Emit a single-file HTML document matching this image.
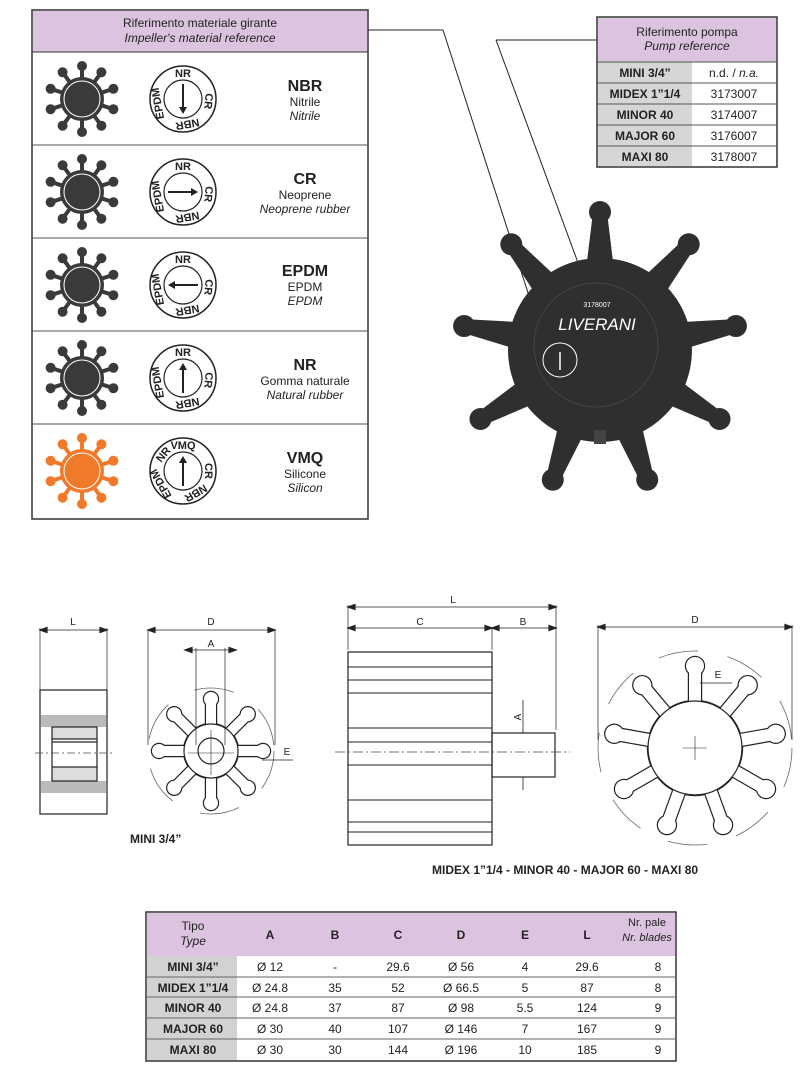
<!DOCTYPE html>
<html><head><meta charset="utf-8"><style>
html,body{margin:0;padding:0;background:#fff;}
svg{display:block;font-family:"Liberation Sans",sans-serif;}
</style></head><body>
<svg id="s" width="800" height="1076" viewBox="0 0 800 1076" xmlns="http://www.w3.org/2000/svg">
<rect width="800" height="1076" fill="#fff"/>
<!-- leader lines -->
<line x1="368" y1="30" x2="443" y2="30" stroke="#222" stroke-width="1"/>
<line x1="443" y1="30" x2="553" y2="370" stroke="#222" stroke-width="1"/>
<line x1="597" y1="40" x2="496" y2="40" stroke="#222" stroke-width="1"/>
<line x1="496" y1="40" x2="591" y2="298" stroke="#222" stroke-width="1"/>
<g id="big"></g>
<!-- left panel -->
<rect x="32" y="10" width="336" height="509" fill="#fff" stroke="#333" stroke-width="1.5"/>
<rect x="33" y="11" width="334" height="41" fill="#dcc3df"/>
<line x1="32" y1="52" x2="368" y2="52" stroke="#333"/>
<text x="200" y="27" font-size="12" text-anchor="middle" fill="#222">Riferimento materiale girante</text>
<text x="200" y="42" font-size="12" text-anchor="middle" font-style="italic" fill="#222">Impeller's material reference</text>
<g stroke="#555" stroke-width="1"><line x1="32" y1="145" x2="368" y2="145"/><line x1="32" y1="238" x2="368" y2="238"/><line x1="32" y1="331" x2="368" y2="331"/><line x1="32" y1="424" x2="368" y2="424"/></g>
<g id="icons"></g>
<g font-size="12" fill="#222" text-anchor="middle">
<text x="305" y="91" font-size="16" font-weight="bold">NBR</text><text x="305" y="106">Nitrile</text><text x="305" y="120" font-style="italic">Nitrile</text>
<text x="305" y="184" font-size="16" font-weight="bold">CR</text><text x="305" y="199">Neoprene</text><text x="305" y="213" font-style="italic">Neoprene rubber</text>
<text x="305" y="276" font-size="16" font-weight="bold">EPDM</text><text x="305" y="291">EPDM</text><text x="305" y="305" font-style="italic">EPDM</text>
<text x="305" y="370" font-size="16" font-weight="bold">NR</text><text x="305" y="385">Gomma naturale</text><text x="305" y="399" font-style="italic">Natural rubber</text>
<text x="305" y="463" font-size="16" font-weight="bold">VMQ</text><text x="305" y="478">Silicone</text><text x="305" y="492" font-style="italic">Silicon</text>
</g>
<!-- pump ref table -->
<rect x="597" y="17" width="180" height="150" fill="#fff" stroke="#333" stroke-width="1.5"/>
<rect x="598" y="18" width="178" height="44" fill="#dcc3df"/>
<rect x="598" y="62" width="94" height="104" fill="#d6d6d6"/>
<g stroke="#555"><line x1="597" y1="62" x2="777" y2="62"/><line x1="597" y1="83" x2="777" y2="83"/><line x1="597" y1="104" x2="777" y2="104"/><line x1="597" y1="125" x2="777" y2="125"/><line x1="597" y1="146" x2="777" y2="146"/></g>
<text x="687" y="36" font-size="12" text-anchor="middle" fill="#222">Riferimento pompa</text>
<text x="687" y="50" font-size="12" text-anchor="middle" font-style="italic" fill="#222">Pump reference</text>
<g font-size="12" font-weight="bold" text-anchor="middle" fill="#222">
<text x="645" y="77">MINI 3/4”</text><text x="645" y="98">MIDEX 1”1/4</text><text x="645" y="119">MINOR 40</text><text x="645" y="140">MAJOR 60</text><text x="645" y="161">MAXI 80</text></g>
<g font-size="12" text-anchor="middle" fill="#222">
<text x="734" y="77">n.d. / <tspan font-style="italic">n.a.</tspan></text><text x="734" y="98">3173007</text><text x="734" y="119">3174007</text><text x="734" y="140">3176007</text><text x="734" y="161">3178007</text></g>
<!-- lower drawings -->
<g id="draw" fill="none" stroke="#222" stroke-width="1.2"></g>
<g font-size="10" fill="#222" text-anchor="middle">
<text x="73" y="625">L</text><text x="211" y="625">D</text><text x="211" y="647">A</text><text x="287" y="755">E</text>
<text x="453" y="603">L</text><text x="420" y="625">C</text><text x="523" y="625">B</text><text x="695" y="623">D</text><text x="718" y="678">E</text>
<text x="521" y="717" transform="rotate(-90 521 717)">A</text>
</g>
<text x="130" y="843" font-size="12" font-weight="bold" fill="#222">MINI 3/4”</text>
<text x="432" y="874" font-size="12" font-weight="bold" fill="#222">MIDEX 1”1/4 - MINOR 40 - MAJOR 60 - MAXI 80</text>
<!-- bottom table -->
<rect x="146" y="912" width="530" height="149" fill="#fff" stroke="#333" stroke-width="1.5"/>
<rect x="147" y="913" width="528" height="43" fill="#dcc3df"/>
<rect x="147" y="956" width="90" height="104" fill="#d2d2d2"/>
<g stroke="#666"><line x1="146" y1="977" x2="676" y2="977"/><line x1="146" y1="997" x2="676" y2="997"/><line x1="146" y1="1018" x2="676" y2="1018"/><line x1="146" y1="1039" x2="676" y2="1039"/></g>
<g font-size="12" fill="#222" text-anchor="middle">
<text x="193" y="930">Tipo</text><text x="193" y="945" font-style="italic">Type</text>
<text x="647" y="926" font-size="11">Nr. pale</text><text x="647" y="941" font-size="11" font-style="italic">Nr. blades</text>
<g font-weight="bold"><text x="270" y="939">A</text><text x="335" y="939">B</text><text x="398" y="939">C</text><text x="461" y="939">D</text><text x="525" y="939">E</text><text x="587" y="939">L</text>
<text x="193" y="971">MINI 3/4”</text><text x="193" y="992">MIDEX 1”1/4</text><text x="193" y="1012">MINOR 40</text><text x="193" y="1033">MAJOR 60</text><text x="193" y="1054">MAXI 80</text></g>
<text x="270" y="971">Ø 12</text><text x="335" y="971">-</text><text x="398" y="971">29.6</text><text x="461" y="971">Ø 56</text><text x="525" y="971">4</text><text x="587" y="971">29.6</text><text x="658" y="971">8</text>
<text x="270" y="992">Ø 24.8</text><text x="335" y="992">35</text><text x="398" y="992">52</text><text x="461" y="992">Ø 66.5</text><text x="525" y="992">5</text><text x="587" y="992">87</text><text x="658" y="992">8</text>
<text x="270" y="1012">Ø 24.8</text><text x="335" y="1012">37</text><text x="398" y="1012">87</text><text x="461" y="1012">Ø 98</text><text x="525" y="1012">5.5</text><text x="587" y="1012">124</text><text x="658" y="1012">9</text>
<text x="270" y="1033">Ø 30</text><text x="335" y="1033">40</text><text x="398" y="1033">107</text><text x="461" y="1033">Ø 146</text><text x="525" y="1033">7</text><text x="587" y="1033">167</text><text x="658" y="1033">9</text>
<text x="270" y="1054">Ø 30</text><text x="335" y="1054">30</text><text x="398" y="1054">144</text><text x="461" y="1054">Ø 196</text><text x="525" y="1054">10</text><text x="587" y="1054">185</text><text x="658" y="1054">9</text>
</g>
</svg>
<script>
var NS="http://www.w3.org/2000/svg";
function el(p,t,a,txt){var e=document.createElementNS(NS,t);for(var k in a)e.setAttribute(k,a[k]);if(txt)e.textContent=txt;p.appendChild(e);return e;}
// big impeller
var g=document.getElementById('big'),cx=600,cy=350,col='#2f2f2f';
for(var i=0;i<9;i++){var a=(-90+40*i)*Math.PI/180,x=cx+138*Math.cos(a),y=cy+138*Math.sin(a);
var px=-Math.sin(a),py=Math.cos(a),bx=cx+80*Math.cos(a),by=cy+80*Math.sin(a);
el(g,'polygon',{points:(bx+14*px)+','+(by+14*py)+' '+(x+7*px)+','+(y+7*py)+' '+(x-7*px)+','+(y-7*py)+' '+(bx-14*px)+','+(by-14*py),fill:col});
el(g,'circle',{cx:x,cy:y,r:11,fill:col});}
el(g,'circle',{cx:cx,cy:cy,r:92,fill:col});
el(g,'circle',{cx:cx-4,cy:cy-5,r:62,fill:'none',stroke:'#444','stroke-width':1});
el(g,'rect',{x:cx-6,y:cy+80,width:12,height:14,fill:'#444'});
el(g,'text',{x:cx-3,y:cy-43,'font-size':7,fill:'#fff','text-anchor':'middle'},'3178007');
el(g,'text',{x:cx-3,y:cy-20,'font-size':17,fill:'#fff','text-anchor':'middle','font-style':'italic'},'LIVERANI');
el(g,'circle',{cx:cx-40,cy:cy+10,r:17,fill:'none',stroke:'#fff','stroke-width':1});
el(g,'line',{x1:cx-40,y1:cy+20,x2:cx-40,y2:cy+2,stroke:'#fff','stroke-width':1.5});
// icons
var ic=document.getElementById('icons');
var rows=[[99,90],[192,0],[285,180],[378,270],[471,270]];
rows.forEach(function(r,j){var y0=r[0],c=j==4?'#f07a2a':'#3a3a3a',x0=82;
for(var i=0;i<10;i++){var a=(i*36-90)*Math.PI/180,x=x0+33*Math.cos(a),y=y0+33*Math.sin(a);
el(ic,'line',{x1:x0,y1:y0,x2:x,y2:y,stroke:c,'stroke-width':4});el(ic,'circle',{cx:x,cy:y,r:5,fill:c});}
el(ic,'circle',{cx:x0,cy:y0,r:22,fill:c});el(ic,'circle',{cx:x0,cy:y0,r:18,fill:'none',stroke:'#fff','stroke-width':1});
var bx=183;el(ic,'circle',{cx:bx,cy:y0,r:33,fill:'#fff',stroke:'#222','stroke-width':1.5});
el(ic,'circle',{cx:bx,cy:y0,r:19,fill:'none',stroke:'#222','stroke-width':1.2});
var d=r[1]*Math.PI/180,ex=bx+15*Math.cos(d),ey=y0+15*Math.sin(d),sx=bx-15*Math.cos(d),sy=y0-15*Math.sin(d);
el(ic,'line',{x1:sx,y1:sy,x2:ex-5*Math.cos(d),y2:ey-5*Math.sin(d),stroke:'#222','stroke-width':2});
var px=-Math.sin(d),py=Math.cos(d);
el(ic,'polygon',{points:ex+','+ey+' '+(ex-7*Math.cos(d)+4*px)+','+(ey-7*Math.sin(d)+4*py)+' '+(ex-7*Math.cos(d)-4*px)+','+(ey-7*Math.sin(d)-4*py),fill:'#222'});
var labs=j==4?[['VMQ',-90],['CR',0],['NBR',60],['EPDM',150],['NR',-140]]:[['NR',-90],['CR',5],['NBR',80],['EPDM',170]];
labs.forEach(function(l){var a=l[1]*Math.PI/180,tx=bx+26*Math.cos(a),ty=y0+26*Math.sin(a);
el(ic,'text',{x:tx,y:ty+4,'font-size':11,'font-weight':'bold','text-anchor':'middle',fill:'#222',transform:'rotate('+(l[1]+90)+' '+tx+' '+ty+')'},l[0]);});
});
// drawings
var dr=document.getElementById('draw');
function L(x1,y1,x2,y2,w,c,da){var o={x1:x1,y1:y1,x2:x2,y2:y2};if(w)o['stroke-width']=w;if(c)o.stroke=c;if(da)o['stroke-dasharray']=da;el(dr,'line',o);}
function arrowDim(x1,x2,y){L(x1,y,x2,y,0.8);el(dr,'polygon',{points:x1+','+y+' '+(x1+7)+','+(y-2.5)+' '+(x1+7)+','+(y+2.5),fill:'#222'});el(dr,'polygon',{points:x2+','+y+' '+(x2-7)+','+(y-2.5)+' '+(x2-7)+','+(y+2.5),fill:'#222'});}
function impOutline(cx,cy,n,bl,hub,tip,bw,shaft,dr2){
 var g2=el(dr,'g',{});
 for(var i=0;i<n;i++){var a=(-90+360/n*i)*Math.PI/180,x=cx+bl*Math.cos(a),y=cy+bl*Math.sin(a);
 el(g2,'line',{x1:cx,y1:cy,x2:x,y2:y,stroke:'#222','stroke-width':bw+2.4});el(g2,'circle',{cx:x,cy:y,r:tip+1.2,fill:'#222',stroke:'none'});}
 el(g2,'circle',{cx:cx,cy:cy,r:hub+1.2,fill:'#222',stroke:'none'});
 for(var i=0;i<n;i++){var a=(-90+360/n*i)*Math.PI/180,x=cx+bl*Math.cos(a),y=cy+bl*Math.sin(a);
 el(g2,'line',{x1:cx,y1:cy,x2:x,y2:y,stroke:'#fff','stroke-width':bw});el(g2,'circle',{cx:x,cy:y,r:tip,fill:'#fff',stroke:'none'});}
 el(g2,'circle',{cx:cx,cy:cy,r:hub-0.5,fill:'#fff',stroke:'none'});
 el(g2,'circle',{cx:cx,cy:cy,r:hub,fill:'none',stroke:'#222','stroke-width':1.2});
 if(shaft)el(g2,'circle',{cx:cx,cy:cy,r:shaft,fill:'none',stroke:'#222','stroke-width':1.2});
 el(g2,'circle',{cx:cx,cy:cy,r:dr2,fill:'none',stroke:'#666','stroke-width':0.8,'stroke-dasharray':'40 30'});
}
// mini side
el(dr,'rect',{x:40,y:690,width:67,height:124});
el(dr,'rect',{x:41,y:715,width:65,height:12,fill:'#bbb',stroke:'none'});
el(dr,'rect',{x:41,y:781,width:65,height:12,fill:'#bbb',stroke:'none'});
el(dr,'rect',{x:52,y:727,width:45,height:12,fill:'#ddd'});el(dr,'rect',{x:52,y:767,width:45,height:14,fill:'#ddd'});
L(52,739,52,767);L(97,739,97,767);L(52,742,97,742);
L(35,753,115,753,0.7,'#444','8 3 2 3');
L(40,628,40,690,0.7);L(107,628,107,690,0.7);arrowDim(40,107,630);
// mini front
impOutline(211,751,8,52,27,7,10,13,63);
L(148,630,148,745,0.7);L(275,630,275,745,0.7);arrowDim(148,275,630);
L(196,648,196,745,0.7);L(225,648,225,745,0.7);arrowDim(185,236,650);
L(188,753,234,753,0.6);L(211,730,211,775,0.6);
L(262,760,293,760,0.7);
// midex side
el(dr,'rect',{x:348,y:652,width:144,height:193});
[667,680,693,728,742,765,800,822,832].forEach(function(y){L(348,y,492,y,1);});
el(dr,'rect',{x:492,y:733,width:63,height:44});
L(335,752,570,752,0.7,'#444','10 3 2 3');
L(348,605,348,650,0.7);L(556,605,556,730,0.7);arrowDim(348,556,607);
L(492,627,492,650,0.7);arrowDim(348,492,628);arrowDim(492,556,628);
L(516,733,530,733,0.7);L(516,777,530,777,0.7);
el(dr,'line',{x1:523,y1:700,x2:523,y2:733,'stroke-width':0.8});el(dr,'line',{x1:523,y1:777,x2:523,y2:790,'stroke-width':0.8});
// large front
impOutline(695,748,9,82,47,9,12,0,97);
L(598,625,598,740,0.7);L(792,625,792,740,0.7);arrowDim(598,792,627);
L(683,748,707,748,0.6);L(695,736,695,760,0.6);
L(700,683,732,683,0.7);
</script>
</body></html>
